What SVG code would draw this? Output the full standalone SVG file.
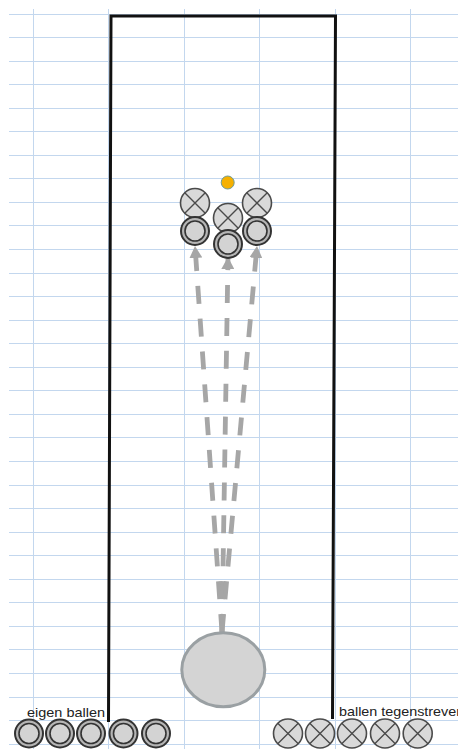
<svg xmlns="http://www.w3.org/2000/svg" width="458" height="749" viewBox="0 0 458 749">
<style>
.grid{stroke:#c3d7ee;stroke-width:1;fill:none}
.field{stroke:#111;stroke-width:3;fill:none;stroke-linejoin:miter}
.lbl{font-family:"Liberation Sans",Arial,sans-serif;font-size:13px;fill:#222}
.xb circle{fill:#d9d9d9;stroke:#4a4a4a;stroke-width:1.6}
.xb path{stroke:#4a4a4a;stroke-width:1.4;fill:none}
.ob .o{fill:#b5b5b5;stroke:#333;stroke-width:2}
.ob .i{fill:#d3d3d3;stroke:#333;stroke-width:1.6}
.arr{stroke:#a6a6a6;stroke-width:4.8;fill:none;stroke-dasharray:18 14.9;marker-end:url(#ah)}
</style>
<defs>
<marker id="ah" markerUnits="userSpaceOnUse" markerWidth="12" markerHeight="13" viewBox="0 0 12 13" refX="12" refY="6.5" orient="auto">
<path d="M0,0 L12,6.5 L0,13 z" fill="#a6a6a6"/>
</marker>
<g id="xball" class="xb"><circle r="14.5"/><path d="M-10.25,-10.25 L10.25,10.25 M10.25,-10.25 L-10.25,10.25"/></g>
<g id="oball" class="ob"><circle class="o" r="14"/><circle class="i" r="10"/></g>
</defs>
<rect width="458" height="749" fill="#fff"/>
<g id="grid">
<path class="grid" d="M9,14.5H458M9,37.5H458M9,61.5H458M9,84.5H458M9,108.5H458M9,131.5H458M9,155.5H458M9,178.5H458M9,202.5H458M9,225.5H458M9,249.5H458M9,273.5H458M9,296.5H458M9,320.5H458M9,343.5H458M9,367.5H458M9,390.5H458M9,414.5H458M9,437.5H458M9,461.5H458M9,485.5H458M9,508.5H458M9,532.5H458M9,555.5H458M9,579.5H458M9,602.5H458M9,626.5H458M9,649.5H458M9,673.5H458M9,697.5H458M9,720.5H458M9,744.5H458"/>
<path class="grid" d="M33.5,9V749M108.5,9V749M184.5,9V749M259.5,9V749M335.5,9V749M410.5,9V749"/>
</g>
<g id="field"><path class="field" d="M108.5,722 L111,16 L335.5,16 L332.5,719"/></g>
<g id="label-eigen"><text class="lbl" x="27" y="716.5" textLength="78" lengthAdjust="spacingAndGlyphs">eigen ballen</text></g>
<g id="label-tegen"><text class="lbl" x="339" y="715.5" textLength="122" lengthAdjust="spacingAndGlyphs">ballen tegenstrever</text></g>
<g id="connectors">
<path class="arr" d="M222,632 L195,246"/>
<path class="arr" d="M222,632 L228,257"/>
<path class="arr" d="M222,632 L257,246"/>
</g>
<g id="jack"><circle cx="227.7" cy="182.5" r="6.5" fill="#f5b000" stroke="#6f9a94" stroke-width="1"/></g>
<g id="x-left"><use href="#xball" x="195" y="203"/></g>
<g id="x-right"><use href="#xball" x="257" y="203"/></g>
<g id="x-mid"><use href="#xball" x="228" y="218"/></g>
<g id="o-left"><use href="#oball" x="195" y="231"/></g>
<g id="o-right"><use href="#oball" x="257" y="231"/></g>
<g id="o-mid"><use href="#oball" x="228" y="244"/></g>
<g id="player"><ellipse cx="223.3" cy="669.7" rx="41.5" ry="37" fill="#d4d4d4" stroke="#9aa0a3" stroke-width="3"/></g>
<g id="own-balls">
<use href="#oball" x="29" y="733.5"/>
<use href="#oball" x="60" y="733.5"/>
<use href="#oball" x="91" y="733.5"/>
<use href="#oball" x="123.5" y="733.5"/>
<use href="#oball" x="156" y="733.5"/>
</g>
<g id="opp-balls">
<use href="#xball" x="288" y="733.5"/>
<use href="#xball" x="320" y="733.5"/>
<use href="#xball" x="352" y="733.5"/>
<use href="#xball" x="385" y="733.5"/>
<use href="#xball" x="417.7" y="733.5"/>
</g>
</svg>
